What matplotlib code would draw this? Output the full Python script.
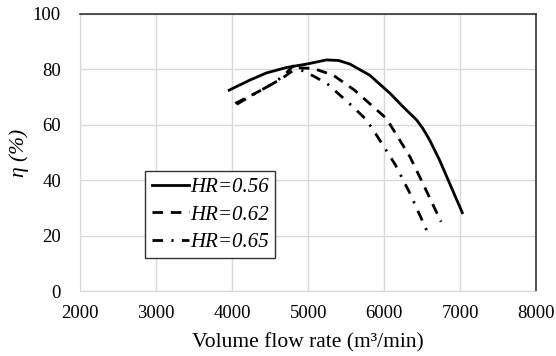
import matplotlib
matplotlib.use("Agg")
import matplotlib.pyplot as plt

plt.rcParams['font.family'] = ['Liberation Serif', 'DejaVu Serif']

# HR = 0.56
q_056 = [3960, 4230, 4450, 4720, 4980, 5240, 5400, 5550, 5810, 6080, 6250, 6430, 6510, 6600, 6730, 7030]
eta_056 = [72.5, 76.1, 78.7, 80.7, 81.9, 83.4, 83.2, 81.9, 77.9, 71.3, 66.5, 61.7, 58.7, 54.5, 47.3, 28.3]
# HR = 0.62
q_062 = [4040, 4300, 4500, 4670, 4850, 5070, 5330, 5610, 6030, 6340, 6510, 6750]
eta_062 = [67.7, 71.3, 74.3, 77.0, 80.6, 80.3, 77.9, 72.5, 62.3, 48.5, 38.9, 25.0]
# HR = 0.65
q_065 = [4060, 4300, 4500, 4670, 4800, 4940, 5090, 5260, 5590, 5770, 5900, 6150, 6340, 6560]
eta_065 = [67.4, 71.3, 74.3, 77.5, 81.2, 79.3, 77.3, 74.6, 66.5, 61.7, 56.3, 45.5, 35.3, 22.0]

labels = ['HR=0.56', 'HR=0.62', 'HR=0.65']

fig = plt.figure(figsize=(5.56, 3.56), dpi=100)
ax = fig.add_axes([0.1445, 0.182, 0.8195, 0.779])

ax.plot(q_056, eta_056, color='black', lw=2.0, ls='-', label=labels[0])
ax.plot(q_062, eta_062, color='black', lw=2.0, ls=(0, (3.8, 2.8)), label=labels[1])
ax.plot(q_065, eta_065, color='black', lw=2.0, ls=(0, (3.8, 3.0, 0.8, 3.0)), label=labels[2])

ax.set_xlim(2000, 8000)
ax.set_ylim(0, 100)
ax.set_xticks(range(2000, 8001, 1000))
ax.set_yticks(range(0, 101, 20))
ax.tick_params(length=0, labelsize=13.5)
ax.tick_params(axis='x', pad=10)
ax.tick_params(axis='y', pad=14)
ax.grid(True, color='#d9d9d9', lw=1)
ax.set_axisbelow(True)

for s in ['left', 'bottom']:
    ax.spines[s].set_color('#d9d9d9')
for s in ['top', 'right']:
    ax.spines[s].set_color('#333333')
    ax.spines[s].set_linewidth(1.2)

ax.set_xlabel('Volume flow rate (m³/min)', fontsize=15.5, labelpad=8)
ax.set_ylabel('η (%)', fontsize=15.5, labelpad=3)
ax.yaxis.label.set_style('italic')

leg = ax.legend(loc='upper left', bbox_to_anchor=(0.1425, 0.432),
                borderaxespad=0, fancybox=False, framealpha=1,
                edgecolor='#333333', prop={'style': 'italic', 'size': 15},
                handlelength=1.8, handletextpad=0.05, labelspacing=0.38,
                borderpad=0.3)
leg.get_frame().set_linewidth(1.0)

fig.savefig('out.png', dpi=100)
